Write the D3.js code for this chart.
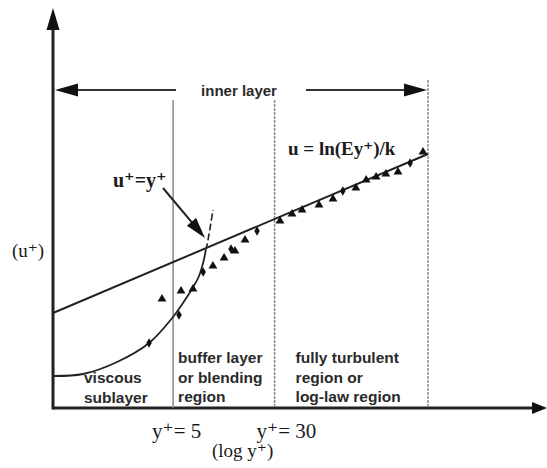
<!DOCTYPE html>
<html>
<head>
<meta charset="utf-8">
<script src="https://cdn.jsdelivr.net/npm/d3@7/dist/d3.min.js"></script>
<style>
  body { margin: 0; background: #fff; }
  svg { display: block; }
  .sans { font-family: "Liberation Sans", Arial, sans-serif; font-weight: bold; fill: #2a2a2a; }
  .serif { font-family: "Liberation Serif", "Times New Roman", "DejaVu Serif", serif; fill: #1a1a1a; }
</style>
</head>
<body>
<div id="chart"></div>
<script>
// region boundaries in y+
var regionEdges = [5, 30, 450];

// log-law line u = ln(Ey+)/k, end points [y+, u+]
var logLaw = [[0.6, 9.5], [450, 25.4]];

// viscous sublayer curve u+ = y+ (solid part, then dashed continuation)
var viscousSolid = [[0.6, 3.2], [1.02, 3.4], [1.86, 4.6], [3.27, 6.5], [4.99, 9.1],
                    [5.95, 10.5], [6.98, 11.9], [7.9, 13.2], [8.6, 14.8], [8.9, 15.8]];
var viscousDashed = [[8.9, 15.8], [9.1, 16.3], [9.6, 18.0], [10.1, 19.8]];

// measured points
var ptYplus = [3.27, 4.11, 5.55, 5.75, 7.1, 8.5, 10.1, 12.3, 13.9, 14.9, 17.8, 22.0, 33.0,
               40.8, 48.7, 65.7, 84.1, 100, 126, 151, 180, 214, 265, 328, 412];
var ptU = [6.5, 10.9, 9.3, 11.7, 11.9, 13.6, 14.2, 15.0, 15.9, 15.7, 16.8, 17.7, 18.7,
           19.4, 19.8, 20.3, 20.9, 21.7, 22.0, 22.8, 23.1, 23.4, 23.6, 24.5, 25.6];
var ptShape = ["d", "t", "d", "t", "t", "d", "t", "t", "d", "t", "t", "d", "t",
               "t", "t", "t", "t", "d", "t", "t", "t", "t", "t", "d", "t"];

var regionLabels = [
  ["viscous", "sublayer"],
  ["buffer layer", "or blending", "region"],
  ["fully turbulent", "region or", "log-law region"]
];

var width = 547, height = 468;

var x = d3.scaleLog().domain([0.6, 450]).range([53, 428]);
var y = d3.scaleLinear().domain([0, 40]).range([408, 8]);

var svg = d3.select("#chart").append("svg")
    .attr("width", width)
    .attr("height", height);

function arrowHead(g, tip, dir, len, half) {
  var ux = dir[0], uy = dir[1];
  var bx = tip[0] - ux * len, by = tip[1] - uy * len;
  g.append("path")
    .attr("d", "M" + tip[0] + "," + tip[1] +
               "L" + (bx - uy * half) + "," + (by + ux * half) +
               "L" + (bx + uy * half) + "," + (by - ux * half) + "Z")
    .attr("fill", "#111");
}

// axes
var x0 = x.range()[0], y0 = y(0);
svg.append("line")
    .attr("x1", x0).attr("y1", y0).attr("x2", width - 10).attr("y2", y0)
    .attr("stroke", "#222").attr("stroke-width", 3);
svg.append("line")
    .attr("x1", x0).attr("y1", y0 + 1.5).attr("x2", x0).attr("y2", 25)
    .attr("stroke", "#222").attr("stroke-width", 3);
arrowHead(svg, [width, y0], [1, 0], 15, 6);
arrowHead(svg, [x0, 8], [0, -1], 22, 6.5);

// region boundary lines
svg.selectAll(".edge")
    .data(regionEdges)
  .enter().append("line")
    .attr("class", "edge")
    .attr("x1", function(d) { return x(d); })
    .attr("x2", function(d) { return x(d); })
    .attr("y1", function(d, i) { return i == 2 ? 80 : 100; })
    .attr("y2", y0)
    .attr("stroke", "#8a8a8a")
    .attr("stroke-width", 1.5)
    .attr("stroke-dasharray", function(d, i) { return i == 0 ? null : "3,1"; });

// inner layer arrow
var innerY = 90;
svg.append("line")
    .attr("x1", x0 + 10).attr("y1", innerY).attr("x2", 176).attr("y2", innerY)
    .attr("stroke", "#333").attr("stroke-width", 2);
svg.append("line")
    .attr("x1", 306).attr("y1", innerY).attr("x2", x(450) - 10).attr("y2", innerY)
    .attr("stroke", "#333").attr("stroke-width", 2);
arrowHead(svg, [x0 + 2, innerY], [-1, 0], 23, 6.5);
arrowHead(svg, [x(450) - 1, innerY], [1, 0], 23, 6.5);
svg.append("text")
    .attr("class", "sans")
    .attr("x", 239).attr("y", 96)
    .attr("text-anchor", "middle")
    .style("font-size", "15px")
    .text("inner layer");

var line = d3.line()
    .x(function(d) { return x(d[0]); })
    .y(function(d) { return y(d[1]); });

// log-law line
svg.append("path")
    .attr("d", line(logLaw))
    .attr("fill", "none")
    .attr("stroke", "#222")
    .attr("stroke-width", 2);

// viscous curve
var curve = d3.line()
    .x(function(d) { return x(d[0]); })
    .y(function(d) { return y(d[1]); })
    .curve(d3.curveCatmullRom);
svg.append("path")
    .attr("d", curve(viscousSolid))
    .attr("fill", "none")
    .attr("stroke", "#222")
    .attr("stroke-width", 1.8);
svg.append("path")
    .attr("d", curve(viscousDashed))
    .attr("fill", "none")
    .attr("stroke", "#222")
    .attr("stroke-width", 1.6)
    .attr("stroke-dasharray", "7,3");

// data points
var points = ptYplus.map(function(v, i) { return {yp: v, u: ptU[i], s: ptShape[i]}; });
svg.selectAll(".pt")
    .data(points)
  .enter().append("path")
    .attr("class", "pt")
    .attr("transform", function(d) { return "translate(" + x(d.yp) + "," + y(d.u) + ")"; })
    .attr("d", function(d) {
      return d.s == "t" ? d3.symbol().type(d3.symbolTriangle).size(34)()
                        : d3.symbol().type(d3.symbolDiamond).size(26)();
    })
    .attr("fill", "#111");

// u+ = y+ pointer
var aFrom = [163, 188], aTip = [205, 238];
var adx = aTip[0] - aFrom[0], ady = aTip[1] - aFrom[1], alen = Math.sqrt(adx * adx + ady * ady);
svg.append("line")
    .attr("x1", aFrom[0]).attr("y1", aFrom[1])
    .attr("x2", aTip[0] - adx / alen * 10).attr("y2", aTip[1] - ady / alen * 10)
    .attr("stroke", "#222").attr("stroke-width", 2);
arrowHead(svg, aTip, [adx / alen, ady / alen], 21, 6);

// equations and axis titles
function label(txt, xpos, ypos, size, bold) {
  svg.append("text")
      .attr("class", "serif")
      .attr("x", xpos).attr("y", ypos)
      .style("font-size", size + "px")
      .style("font-weight", bold ? "bold" : "normal")
      .text(txt);
}
label("u\u207A=y\u207A", 113, 187, 20, true);
label("u = ln(Ey\u207A)/k", 288, 155, 19, true);
label("(u\u207A)", 12, 257, 19, false);
label("y\u207A= 5", x(5) - 21, 438, 21, false);
label("y\u207A= 30", x(30) - 18, 438, 21, false);
label("(log y\u207A)", 212, 457, 19, false);

// region labels
var labelX = [84, x(5) + 5, x(30) + 21];
var labelY0 = [383, 363, 363];
regionLabels.forEach(function(lines, i) {
  svg.append("text")
      .attr("class", "sans")
      .style("font-size", "15.5px")
    .selectAll("tspan")
      .data(lines)
    .enter().append("tspan")
      .attr("x", labelX[i])
      .attr("y", function(d, j) { return labelY0[i] + j * 19.5; })
      .text(function(d) { return d; });
});
</script>
</body>
</html>
